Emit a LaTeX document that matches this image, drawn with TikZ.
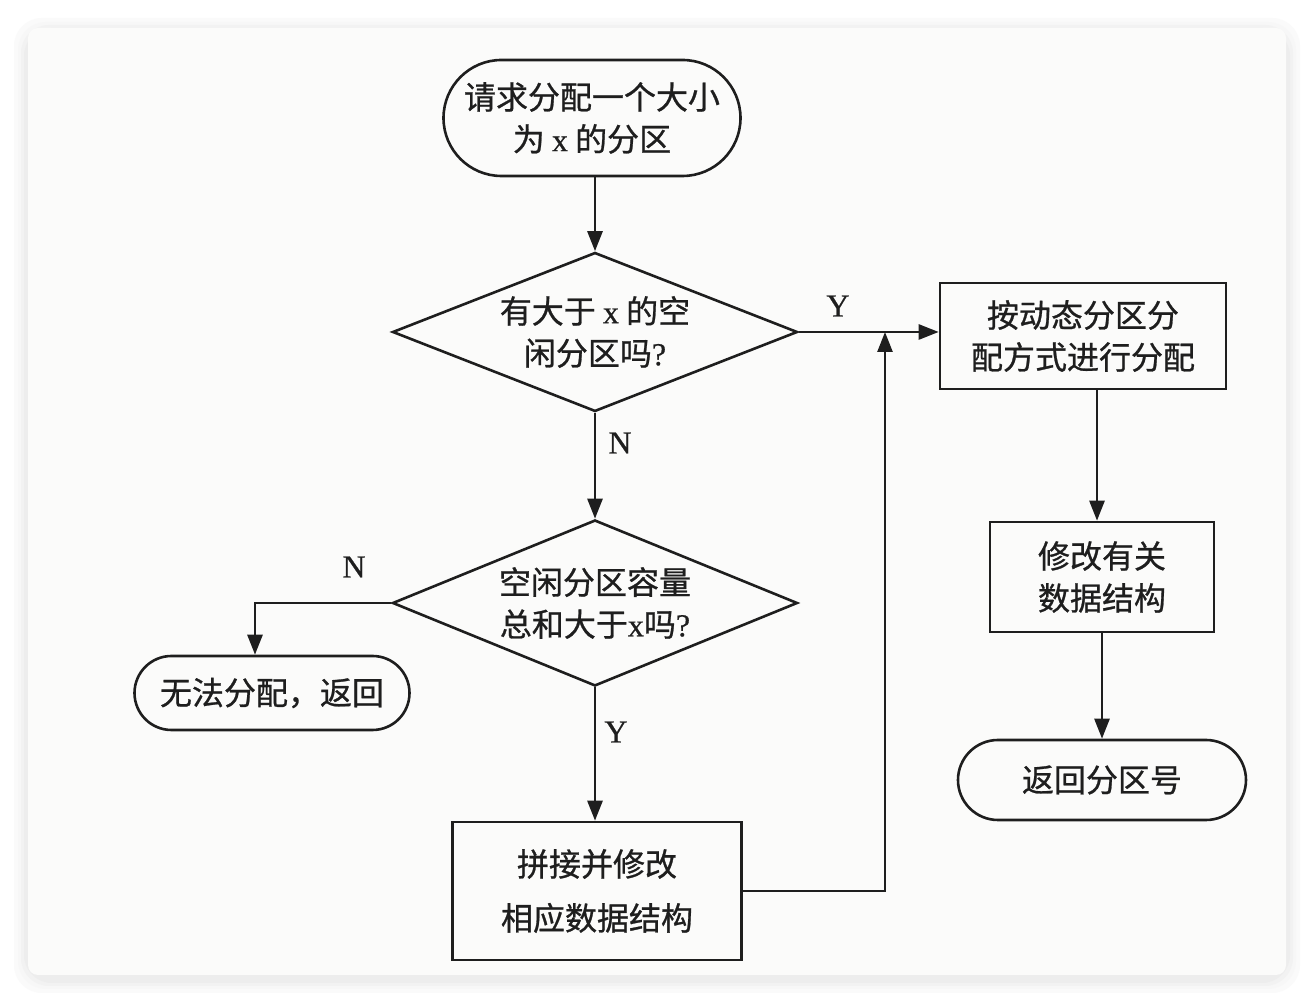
\documentclass[tikz,border=0pt]{standalone}
\usepackage{fontspec}
\setmainfont{Liberation Serif}
\newfontfamily\cjk[FakeBold=0.8]{Noto Sans CJK SC}
\newfontfamily\latn[FakeBold=0.6]{Liberation Serif}
\usetikzlibrary{shapes.geometric,shapes.misc,arrows.meta,calc}
\definecolor{ink}{HTML}{1E1E1E}
\definecolor{pagebg}{HTML}{FBFBFA}
\begin{document}
\begin{tikzpicture}[x=0.5pt,y=-0.5pt,
  font=\fontsize{16pt}{21pt}\selectfont,
  arr/.style={draw=ink,line width=1.3pt,-{Triangle[length=10pt,width=7.5pt]}},
  term/.style={rounded rectangle,draw=ink,line width=1.3pt,align=center,inner sep=0pt,text=ink},
  dec/.style={diamond,draw=ink,line width=1.3pt,align=center,inner sep=0pt,aspect=2.55,text=ink},
  proc/.style={rectangle,draw=ink,line width=1.3pt,align=center,inner sep=0pt,text=ink},
  lab/.style={font=\latn\fontsize{16pt}{18pt}\selectfont,text=ink,inner sep=0pt}]
% background and page
\fill[white] (0,0) rectangle (1314,1004);
\foreach \i/\c in {14/2,10/3,7/5,4/7}{
  \fill[black!\c,rounded corners=14pt] (28-\i,28-\i+4) rectangle (1286+\i,975+\i+4);
}
\fill[pagebg,rounded corners=5pt] (28,28) rectangle (1286,975);
\useasboundingbox (0,0) rectangle (1314,1004);

% nodes
\node[term,minimum width=148.5pt,minimum height=58pt] (start) at (592,118)
  {\cjk 请求分配一个大小\\\cjk 为 {\latn x} 的分区};
\node[dec,minimum width=202.5pt,minimum height=79.5pt] (d1) at (595,332)
  {\cjk 有大于 {\latn x} 的空\\\cjk 闲分区吗{\latn ?}};
\node[dec,minimum width=202.5pt,minimum height=83pt] (d2) at (595,603)
  {\cjk 空闲分区容量\\\cjk 总和大于{\latn x}吗{\latn ?}};
\node[term,minimum width=137.5pt,minimum height=37pt] (fail) at (272,693)
  {\cjk 无法分配，返回};
\node[proc,minimum width=144.5pt,minimum height=69pt,
  font=\fontsize{16pt}{27pt}\selectfont] (merge) at (597,891)
  {\cjk 拼接并修改\\\cjk 相应数据结构};
\node[proc,minimum width=143pt,minimum height=53pt] (alloc) at (1083,336)
  {\cjk 按动态分区分\\\cjk 配方式进行分配};
\node[proc,minimum width=112pt,minimum height=55pt] (modify) at (1102,577)
  {\cjk 修改有关\\\cjk 数据结构};
\node[term,minimum width=144pt,minimum height=40pt] (ret) at (1102,780)
  {\cjk 返回分区号};

% labels
\node[lab] (y1) at (838,306) {Y};
\node[lab] (n1) at (620,443) {N};
\node[lab] (n2) at (354,567) {N};
\node[lab] (y2) at (616,732) {Y};

% helper coordinates
\coordinate (cl) at (255,603);
\coordinate (cj) at (885,332);
\coordinate (cm) at (1097,0);

% connectors
\draw[arr] (d1.north |- start.south) -- (d1.north);
\draw[arr] (d1.east) -- (d1.east -| alloc.west);
\draw[arr] (d1.south) -- (d2.north);
\draw[arr] (d2.west) -- (cl) -- (cl |- fail.north);
\draw[arr] (d2.south) -- (d2.south |- merge.north);
\draw[arr] (merge.east) -| (cj);
\draw[arr] (cm |- alloc.south) -- (cm |- modify.north);
\draw[arr] (modify.south) -- (ret.north);
\end{tikzpicture}
\end{document}
